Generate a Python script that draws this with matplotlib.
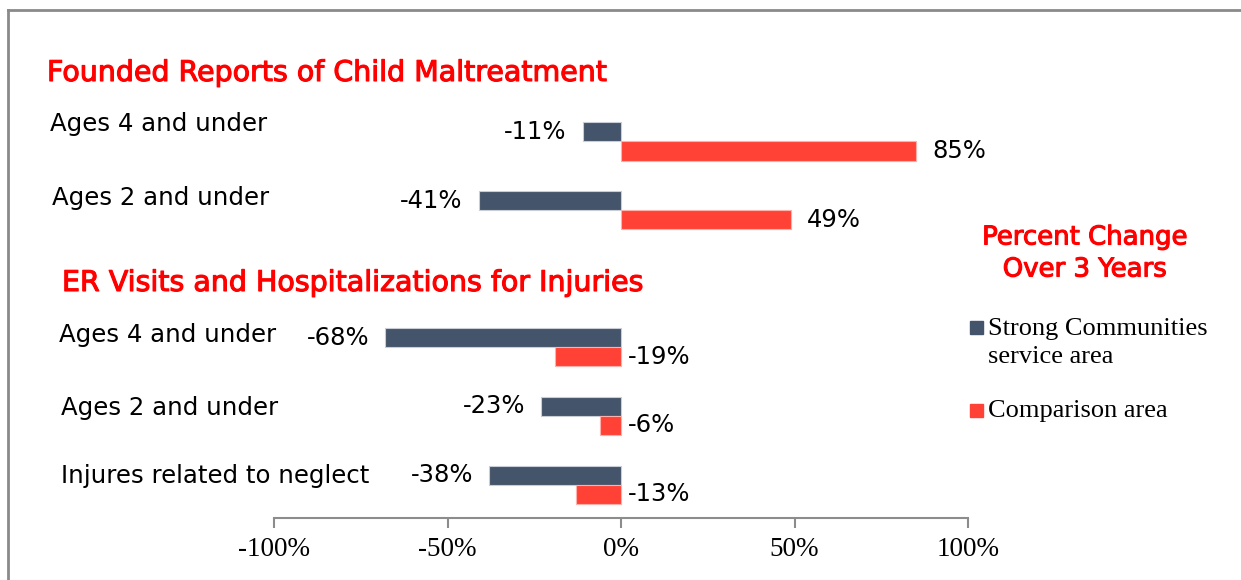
import matplotlib
matplotlib.use("Agg")
import matplotlib.pyplot as plt
from matplotlib.patches import Rectangle
from matplotlib.lines import Line2D
import matplotlib.patheffects as pe

# ---- data ----
section_titles = ["Founded Reports of Child Maltreatment",
                  "ER Visits and Hospitalizations for Injuries"]
categories = ["Ages 4 and under", "Ages 2 and under",
              "Ages 4 and under", "Ages 2 and under", "Injures related to neglect"]
section_of_category = [0, 0, 1, 1, 1]
strong = [-11, -41, -68, -23, -38]
comparison = [85, 49, -19, -6, -13]
series_names = ["Strong Communities\nservice area", "Comparison area"]
legend_title = "Percent Change\nOver 3 Years"
xticks = [-100, -50, 0, 50, 100]
xtick_labels = ["-100%", "-50%", "0%", "50%", "100%"]

# ---- style ----
C_DARK = "#44546A"
C_RED = "#FF4136"
C_TITLE = "#FF0000"
W, H = 1241, 580

fig = plt.figure(figsize=(W / 100, H / 100), dpi=100)

def fx(px):
    return px / W

def fy(py):
    return 1 - py / H

# category slot positions: one blank slot between sections
pos = []
slot = 0
prev = section_of_category[0]
for s in section_of_category:
    if s != prev:
        slot += 1
        prev = s
    pos.append(slot)
    slot += 1

ax = fig.add_axes([fx(274), fy(518), fx(968) - fx(274), fy(20) - fy(518)])
ax.set_xlim(-100, 100)
ax.set_ylim(5.488, -1.771)

bh = 0.277
ax.barh([p - bh / 2 for p in pos], strong, height=bh, color=C_DARK,
        edgecolor="#c9ced6", linewidth=0.8)
ax.barh([p + bh / 2 for p in pos], comparison, height=bh, color=C_RED,
        edgecolor="#ffb0aa", linewidth=0.8)

lab_font = dict(family="DejaVu Sans", fontsize=17.5, color="black")
for p, v in zip(pos, strong):
    if v < 0:
        ax.annotate(f"{v:.0f}%", (v, p - bh / 2), xytext=(-16, 0),
                    textcoords="offset pixels", ha="right", va="center", **lab_font)
    else:
        ax.annotate(f"{v:.0f}%", (v, p - bh / 2), xytext=(16, 0),
                    textcoords="offset pixels", ha="left", va="center", **lab_font)
for p, v in zip(pos, comparison):
    if v >= 0:
        ax.annotate(f"{v:.0f}%", (v, p + bh / 2), xytext=(16, 0),
                    textcoords="offset pixels", ha="left", va="center", **lab_font)
    else:
        ax.annotate(f"{v:.0f}%", (0, p + bh / 2), xytext=(7, 0),
                    textcoords="offset pixels", ha="left", va="center", **lab_font)

for side in ["top", "right", "left"]:
    ax.spines[side].set_visible(False)
ax.spines["bottom"].set_color("#8c8c8c")
ax.spines["bottom"].set_linewidth(1.5)
ax.set_yticks([])
ax.set_xticks(xticks)
ax.set_xticklabels(xtick_labels, family="Liberation Serif", fontsize=19.5)
ax.tick_params(axis="x", direction="out", length=7, width=1.5, color="#8c8c8c", pad=7)
ax.patch.set_alpha(0)

# category labels
cat_font = dict(lab_font, fontsize=17.6)
label_px = [(50, 124), (52, 198), (59, 335), (61, 408), (61, 476)]
for (x, y), c in zip(label_px, categories):
    fig.text(fx(x), fy(y), c, ha="left", va="center", **cat_font)

thick = [pe.withStroke(linewidth=0.8, foreground=C_TITLE)]

# section titles
title_px = [(47, 73), (62, 283)]
for (x, y), t in zip(title_px, section_titles):
    fig.text(fx(x), fy(y), t, ha="left", va="center", family="DejaVu Sans",
             fontsize=20.5, color=C_TITLE, path_effects=thick)

# legend
fig.text(fx(1085), fy(253.5), legend_title, ha="center", va="center",
         family="DejaVu Sans", fontsize=18.7, color=C_TITLE, linespacing=1.3,
         path_effects=thick)
for (sy, ty), col, name in zip([(321, 343), (404, 411)], [C_DARK, C_RED], series_names):
    fig.add_artist(Rectangle((fx(970), fy(sy + 13)), fx(983) - fx(970), fy(sy) - fy(sy + 13),
                             transform=fig.transFigure, color=col))
    fig.text(fx(988), fy(ty), name, ha="left", va="center", family="Liberation Serif",
             fontsize=19, color="black", linespacing=1.4)

# frame
fig.add_artist(Line2D([fx(8), 1], [fy(9.5), fy(9.5)], transform=fig.transFigure,
                      color="#8a8a8a", lw=2))
fig.add_artist(Line2D([fx(8), fx(8)], [fy(9.5), 0], transform=fig.transFigure,
                      color="#8a8a8a", lw=2))

fig.savefig("out.png", dpi=100)
